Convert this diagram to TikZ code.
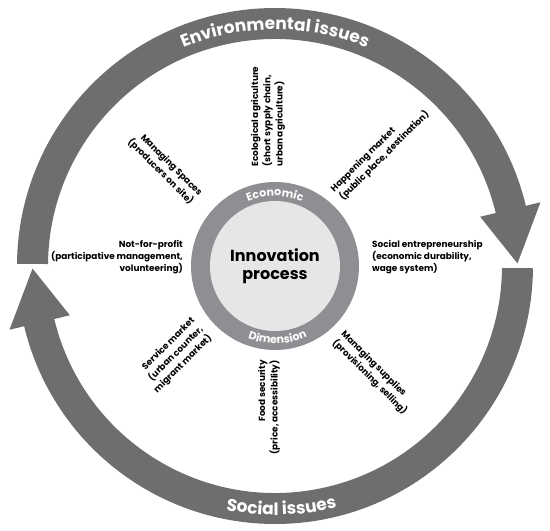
\documentclass[tikz,border=0pt]{standalone}
\usepackage{fontspec}
\setmainfont{Poppins}
\usetikzlibrary{decorations.text}
\definecolor{arrowgray}{HTML}{6D6E70}
\definecolor{ringgray}{HTML}{8E8F92}
\definecolor{corelight}{HTML}{E6E6E7}
\begin{document}
\begin{tikzpicture}[x=1pt,y=1pt,
  lbl/.style={font=\bfseries\fontsize{8.9}{12.3}\selectfont, inner sep=0pt, text=black},
  bigarrow/.style={fill=arrowgray},
]
\useasboundingbox (0,0) rectangle (550,-531);
\coordinate (C) at (275,-266);
\begin{scope}[shift={(C)}]
  % top arrow (Environmental issues)
  \fill[bigarrow] (179.5:258) arc[start angle=179.5, end angle=13.5, radius=258]
     -- (13.5:273) -- (0.6:242.5) -- (13.5:211) -- (13.5:227)
     arc[start angle=13.5, end angle=179.5, radius=227] -- cycle;
  % bottom arrow (Social issues)
  \fill[bigarrow] (-0.5:258) arc[start angle=-0.5, end angle=-166.5, radius=258]
     -- (-166.5:273) -- (-179.4:242.5) -- (-166.5:211) -- (-166.5:227)
     arc[start angle=-166.5, end angle=-0.5, radius=227] -- cycle;
  \path[decorate, decoration={text along path, text align=center, text color=white,
     text={|\bfseries\fontsize{17}{17}\selectfont|Environmental issues}}]
     (150:236.5) arc[start angle=150, end angle=30, radius=236.5];
  \path[decorate, decoration={text along path, text align=center, text color=white,
     text={|\bfseries\fontsize{17}{17}\selectfont|Social issues}}]
     (-135:249) arc[start angle=-135, end angle=-42, radius=249];
\end{scope}

\node[circle, fill=ringgray, minimum size=168pt, inner sep=0pt] (ring) at (C) {};
\node[circle, fill=corelight, minimum size=130pt, inner sep=0pt] (core) at (C) {};
\node[font=\bfseries\fontsize{16}{18}\selectfont, align=center] (innov) at (C) {Innovation\\process};

\begin{scope}[shift={(C)}]
  \path[decorate, decoration={text along path, text align=center, text color=white,
     text={|\bfseries\fontsize{11}{11}\selectfont|Economic}}]
     (150:70) arc[start angle=150, end angle=30, radius=70];
  \path[decorate, decoration={text along path, text align=center, text color=white,
     text={|\bfseries\fontsize{11}{11}\selectfont|Dimension}}]
     (-148:77.5) arc[start angle=-148, end angle=-28, radius=77.5];
\end{scope}

\node[lbl, rotate=90, anchor=west, align=left] (eco) at (268,-167)
  {Ecological agriculture\\(short sypply chain,\\urban agriculture)};
\node[lbl, rotate=45, anchor=west, align=left] (happen) at (337,-195)
  {Happening market\\(public place, destination)};
\node[lbl, anchor=west, align=left] (socent) at (372,-257)
  {Social entrepreneurship\\(economic durability,\\wage system)};
\node[lbl, rotate=-45, anchor=west, align=left] (supplies) at (338,-337)
  {Managing supplies\\(provisioning, selling)};
\node[lbl, rotate=90, anchor=east, align=right] (food) at (269,-360)
  {Food security\\(price, accessibility)};
\node[lbl, rotate=45, anchor=east, align=right] (service) at (202,-328)
  {Service market\\(urban counter,\\migrant market)};
\node[lbl, anchor=east, align=right] (nfp) at (183,-257)
  {Not-for-profit\\(participative management,\\volunteering)};
\node[lbl, rotate=-45, anchor=east, align=right] (spaces) at (196,-199)
  {Managing Spaces\\(producers on site)};
\end{tikzpicture}
\end{document}
